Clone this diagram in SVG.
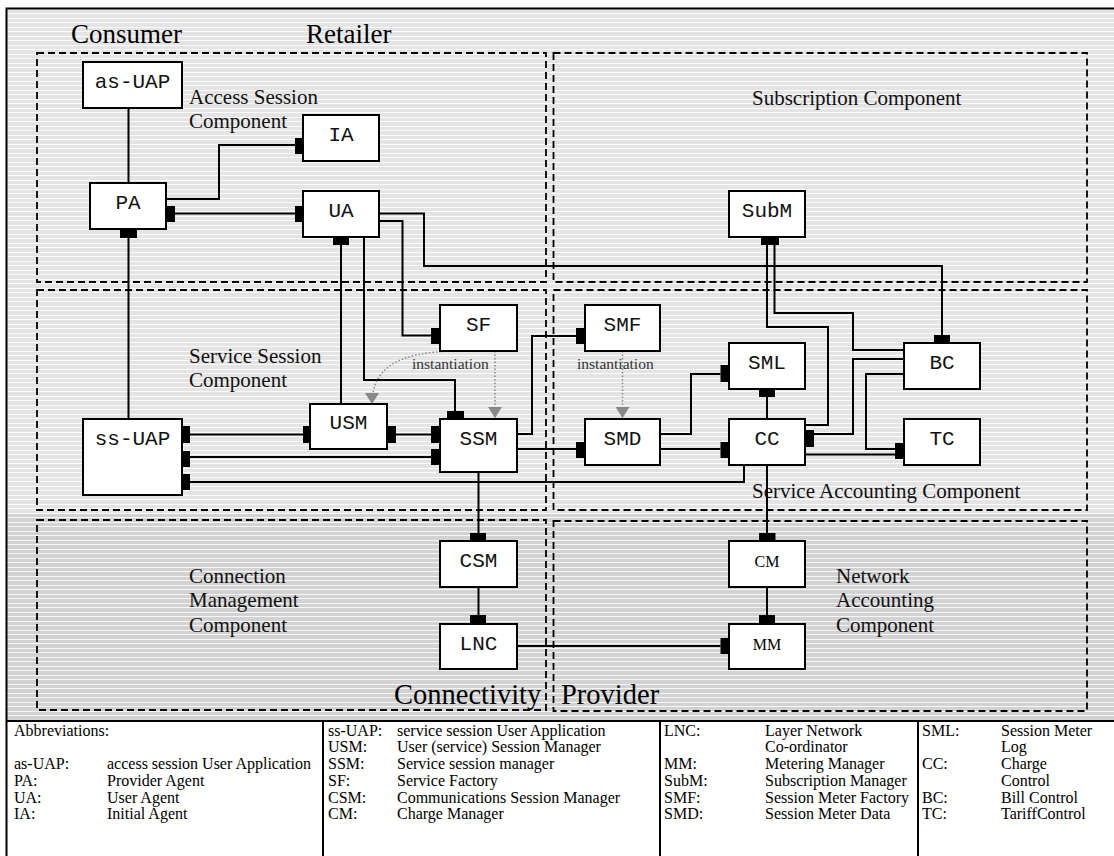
<svg xmlns="http://www.w3.org/2000/svg" width="1114" height="856" viewBox="0 0 1114 856">
<style>
.box{fill:#fff;stroke:#000;stroke-width:2}
.port{fill:#000}
.zone{fill:none;stroke:#000;stroke-width:1.8;stroke-dasharray:7 4}
.wire{fill:none;stroke:#000;stroke-width:2}
.inst{fill:none;stroke:#888;stroke-width:1.5;stroke-dasharray:1.5 2}
.mono{font-family:"Liberation Mono","DejaVu Sans Mono",monospace;font-size:21px;text-anchor:middle;fill:#111}
.sn{font-family:"Liberation Serif","DejaVu Serif",serif;font-size:16px;text-anchor:middle;fill:#000}
.zl{font-family:"Liberation Serif","DejaVu Serif",serif;font-size:21px;fill:#111}
.big{font-family:"Liberation Serif","DejaVu Serif",serif;font-size:27px;fill:#000}
.big2{font-family:"Liberation Serif","DejaVu Serif",serif;font-size:28.5px;fill:#000}
.note{font-family:"Liberation Serif","DejaVu Serif",serif;font-size:15.5px;fill:#333}
.leg{font-family:"Liberation Serif","DejaVu Serif",serif;font-size:16px;fill:#000}
</style>
<defs>
<pattern id="hatchLight" width="16" height="9" patternUnits="userSpaceOnUse">
<rect width="16" height="9" fill="#e4e4e4"/>
<rect y="0" width="16" height="1" fill="#fbfbfb"/>
<rect y="4" width="16" height="1" fill="#fbfbfb"/>
</pattern>
<pattern id="hatchDark" width="16" height="9" patternUnits="userSpaceOnUse">
<rect width="16" height="9" fill="#d2d2d2"/>
<rect y="0" width="16" height="1" fill="#f6f6f6"/>
<rect y="4" width="16" height="1" fill="#f6f6f6"/>
</pattern>
<marker id="tri" viewBox="0 0 11 14" refX="11" refY="7" markerWidth="11" markerHeight="14" markerUnits="userSpaceOnUse" orient="auto">
<path d="M0,0 L11,7 L0,14 z" fill="#888"/>
</marker>
</defs>

<!-- page background and frame -->
<rect width="1114" height="856" fill="#fff"/>
<rect x="6" y="9" width="1108" height="505" fill="url(#hatchLight)"/>
<rect x="6" y="514" width="1108" height="207" fill="url(#hatchDark)"/>
<path d="M6.5,856 V8.5 H1114" fill="none" stroke="#000" stroke-width="2"/>

<!-- domain titles -->
<text class="big" x="71" y="43">Consumer</text>
<text class="big" x="306" y="43">Retailer</text>
<text class="big2" x="394" y="704">Connectivity</text>
<text class="big2" x="561" y="704">Provider</text>

<!-- component areas -->
<g id="zones">
<rect class="zone" x="37" y="53" width="509" height="229"/>
<rect class="zone" x="553.5" y="53" width="533.5" height="229"/>
<rect class="zone" x="37" y="290" width="509" height="220"/>
<rect class="zone" x="553.5" y="290" width="533.5" height="220"/>
<rect class="zone" x="37" y="520" width="509" height="190"/>
<rect class="zone" x="553.5" y="521" width="533.5" height="190"/>
<text class="zl" x="189" y="104">Access Session</text>
<text class="zl" x="189" y="128">Component</text>
<text class="zl" x="752" y="105">Subscription Component</text>
<text class="zl" x="189" y="363">Service Session</text>
<text class="zl" x="189" y="387">Component</text>
<text class="zl" x="752" y="498">Service Accounting Component</text>
<text class="zl" x="189" y="583">Connection</text>
<text class="zl" x="189" y="607">Management</text>
<text class="zl" x="189" y="632">Component</text>
<text class="zl" x="836" y="583">Network</text>
<text class="zl" x="836" y="607">Accounting</text>
<text class="zl" x="836" y="632">Component</text>
</g>

<!-- connectors -->
<g id="connectors">
<path class="wire" d="M128.5,108 V183"/>
<path class="wire" d="M166,199 H219 V145 H295"/>
<path class="wire" d="M175,213.5 H295"/>
<path class="wire" d="M128.5,238 V419"/>
<path class="wire" d="M341,245 V404"/>
<path class="wire" d="M364,237 V380 H455 V411"/>
<path class="wire" d="M379,221 H402.5 V335.5 H431"/>
<path class="wire" d="M379,213.5 H424 V266 H942 V335"/>
<path class="wire" d="M767,245 V327 H828 V425 H805"/>
<path class="wire" d="M774.5,245 V313 H853 V350 H904"/>
<path class="wire" d="M904,359 H853 V434 H814"/>
<path class="wire" d="M904,374 H866 V449 H895"/>
<path class="wire" d="M805,454.5 H895"/>
<path class="wire" d="M660,434 H691 V374 H720.5"/>
<path class="wire" d="M660,449 H720.5"/>
<path class="wire" d="M767,397 V419"/>
<path class="wire" d="M517,434 H532 V336 H576"/>
<path class="wire" d="M517,449 H576"/>
<path class="wire" d="M190,434.5 H303"/>
<path class="wire" d="M396,434.5 H431"/>
<path class="wire" d="M190,457 H431"/>
<path class="wire" d="M190,482 H744 V465"/>
<path class="wire" d="M478.5,472 V533"/>
<path class="wire" d="M767,465 V533"/>
<path class="wire" d="M478.5,587 V615"/>
<path class="wire" d="M767,587 V615"/>
<path class="wire" d="M517,646 H720.5"/>
<path class="inst" d="M495,351 V418" marker-end="url(#tri)"/>
<path class="inst" d="M455,351 C398,352 372,368 372,404" marker-end="url(#tri)"/>
<path class="inst" d="M622.5,351 V418" marker-end="url(#tri)"/>
<text class="note" x="412" y="369">instantiation</text>
<text class="note" x="577" y="369">instantiation</text>
</g>

<!-- nodes -->
<g id="as-UAP"><rect class="box" x="83" y="62" width="99" height="46"/><text class="mono" x="132.5" y="88">as-UAP</text></g>
<g id="IA"><rect class="box" x="303" y="115" width="76" height="46"/><rect class="port" x="295" y="138" width="8" height="16"/><text class="mono" x="341" y="141">IA</text></g>
<g id="PA"><rect class="box" x="90" y="183" width="76" height="46"/><rect class="port" x="166" y="206" width="9" height="16"/><rect class="port" x="120" y="229" width="17" height="9"/><text class="mono" x="128" y="209">PA</text></g>
<g id="UA"><rect class="box" x="303" y="191" width="76" height="46"/><rect class="port" x="295" y="206" width="8" height="16"/><rect class="port" x="333" y="237" width="16" height="8"/><text class="mono" x="341" y="217">UA</text></g>
<g id="SubM"><rect class="box" x="729" y="191" width="76" height="46"/><rect class="port" x="761" y="237" width="18" height="8"/><text class="mono" x="767" y="217">SubM</text></g>
<g id="SF"><rect class="box" x="440" y="305" width="77" height="46"/><rect class="port" x="431" y="328" width="9" height="16"/><text class="mono" x="478.5" y="331">SF</text></g>
<g id="SMF"><rect class="box" x="585" y="305" width="75" height="46"/><rect class="port" x="576" y="328" width="9" height="16"/><text class="mono" x="622.5" y="331">SMF</text></g>
<g id="SML"><rect class="box" x="729" y="343" width="76" height="46"/><rect class="port" x="720.5" y="365" width="8.5" height="17"/><rect class="port" x="759" y="389" width="16" height="8"/><text class="mono" x="767" y="369">SML</text></g>
<g id="BC"><rect class="box" x="904" y="343" width="76" height="46"/><rect class="port" x="934" y="335" width="16" height="8"/><text class="mono" x="942" y="369">BC</text></g>
<g id="USM"><rect class="box" x="310" y="404" width="77" height="45"/><rect class="port" x="303" y="426" width="7" height="17"/><rect class="port" x="387" y="426" width="9" height="17"/><text class="mono" x="348.5" y="429">USM</text></g>
<g id="ss-UAP"><rect class="box" x="83" y="419" width="99" height="76"/><rect class="port" x="182" y="426" width="8" height="17"/><rect class="port" x="182" y="451" width="8" height="16"/><rect class="port" x="182" y="474" width="8" height="16"/><text class="mono" x="132.5" y="445">ss-UAP</text></g>
<g id="SSM"><rect class="box" x="440" y="419" width="77" height="53"/><rect class="port" x="447" y="411" width="17" height="8"/><rect class="port" x="431" y="426" width="9" height="17"/><rect class="port" x="431" y="449" width="9" height="16"/><text class="mono" x="478.5" y="445">SSM</text></g>
<g id="SMD"><rect class="box" x="585" y="419" width="75" height="46"/><rect class="port" x="576" y="442" width="9" height="16"/><text class="mono" x="622.5" y="445">SMD</text></g>
<g id="CC"><rect class="box" x="729" y="419" width="76" height="46"/><rect class="port" x="720.5" y="442" width="8.5" height="16"/><rect class="port" x="805" y="430" width="9" height="17"/><text class="mono" x="767" y="445">CC</text></g>
<g id="TC"><rect class="box" x="904" y="419" width="76" height="46"/><rect class="port" x="895" y="443" width="9" height="16"/><text class="mono" x="942" y="445">TC</text></g>
<g id="CSM"><rect class="box" x="440" y="541" width="77" height="46"/><rect class="port" x="470" y="533" width="16" height="8"/><text class="mono" x="478.5" y="567">CSM</text></g>
<g id="CM"><rect class="box" x="729" y="541" width="76" height="46"/><rect class="port" x="759" y="533" width="16.5" height="8"/><text class="sn" x="767" y="567">CM</text></g>
<g id="LNC"><rect class="box" x="440" y="624" width="77" height="45"/><rect class="port" x="470" y="615" width="16" height="9"/><text class="mono" x="478.5" y="650">LNC</text></g>
<g id="MM"><rect class="box" x="729" y="624" width="76" height="45"/><rect class="port" x="759" y="615" width="16" height="9"/><rect class="port" x="720.5" y="638" width="8.5" height="16"/><text class="sn" x="767" y="650">MM</text></g>

<!-- abbreviation table -->
<g id="legend">
<path d="M6,721 H1114 M323,721 V856 M660,721 V856 M918,721 V856" fill="none" stroke="#000" stroke-width="2"/>
<text class="leg" x="14" y="736">Abbreviations:</text>
<text class="leg" x="14" y="769">as-UAP:</text><text class="leg" x="107" y="769">access session User Application</text>
<text class="leg" x="14" y="786">PA:</text><text class="leg" x="107" y="786">Provider Agent</text>
<text class="leg" x="14" y="803">UA:</text><text class="leg" x="107" y="803">User Agent</text>
<text class="leg" x="14" y="819">IA:</text><text class="leg" x="107" y="819">Initial Agent</text>
<text class="leg" x="328" y="736">ss-UAP:</text><text class="leg" x="397" y="736">service session User Application</text>
<text class="leg" x="328" y="752">USM:</text><text class="leg" x="397" y="752">User (service) Session Manager</text>
<text class="leg" x="328" y="769">SSM:</text><text class="leg" x="397" y="769">Service session manager</text>
<text class="leg" x="328" y="786">SF:</text><text class="leg" x="397" y="786">Service Factory</text>
<text class="leg" x="328" y="803">CSM:</text><text class="leg" x="397" y="803">Communications Session Manager</text>
<text class="leg" x="328" y="819">CM:</text><text class="leg" x="397" y="819">Charge Manager</text>
<text class="leg" x="664" y="736">LNC:</text><text class="leg" x="765" y="736">Layer Network</text>
<text class="leg" x="765" y="752">Co-ordinator</text>
<text class="leg" x="664" y="769">MM:</text><text class="leg" x="765" y="769">Metering Manager</text>
<text class="leg" x="664" y="786">SubM:</text><text class="leg" x="765" y="786">Subscription Manager</text>
<text class="leg" x="664" y="803">SMF:</text><text class="leg" x="765" y="803">Session Meter Factory</text>
<text class="leg" x="664" y="819">SMD:</text><text class="leg" x="765" y="819">Session Meter Data</text>
<text class="leg" x="922" y="736">SML:</text><text class="leg" x="1001" y="736">Session Meter</text>
<text class="leg" x="1001" y="752">Log</text>
<text class="leg" x="922" y="769">CC:</text><text class="leg" x="1001" y="769">Charge</text>
<text class="leg" x="1001" y="786">Control</text>
<text class="leg" x="922" y="803">BC:</text><text class="leg" x="1001" y="803">Bill Control</text>
<text class="leg" x="922" y="819">TC:</text><text class="leg" x="1001" y="819">TariffControl</text>
</g>
</svg>
